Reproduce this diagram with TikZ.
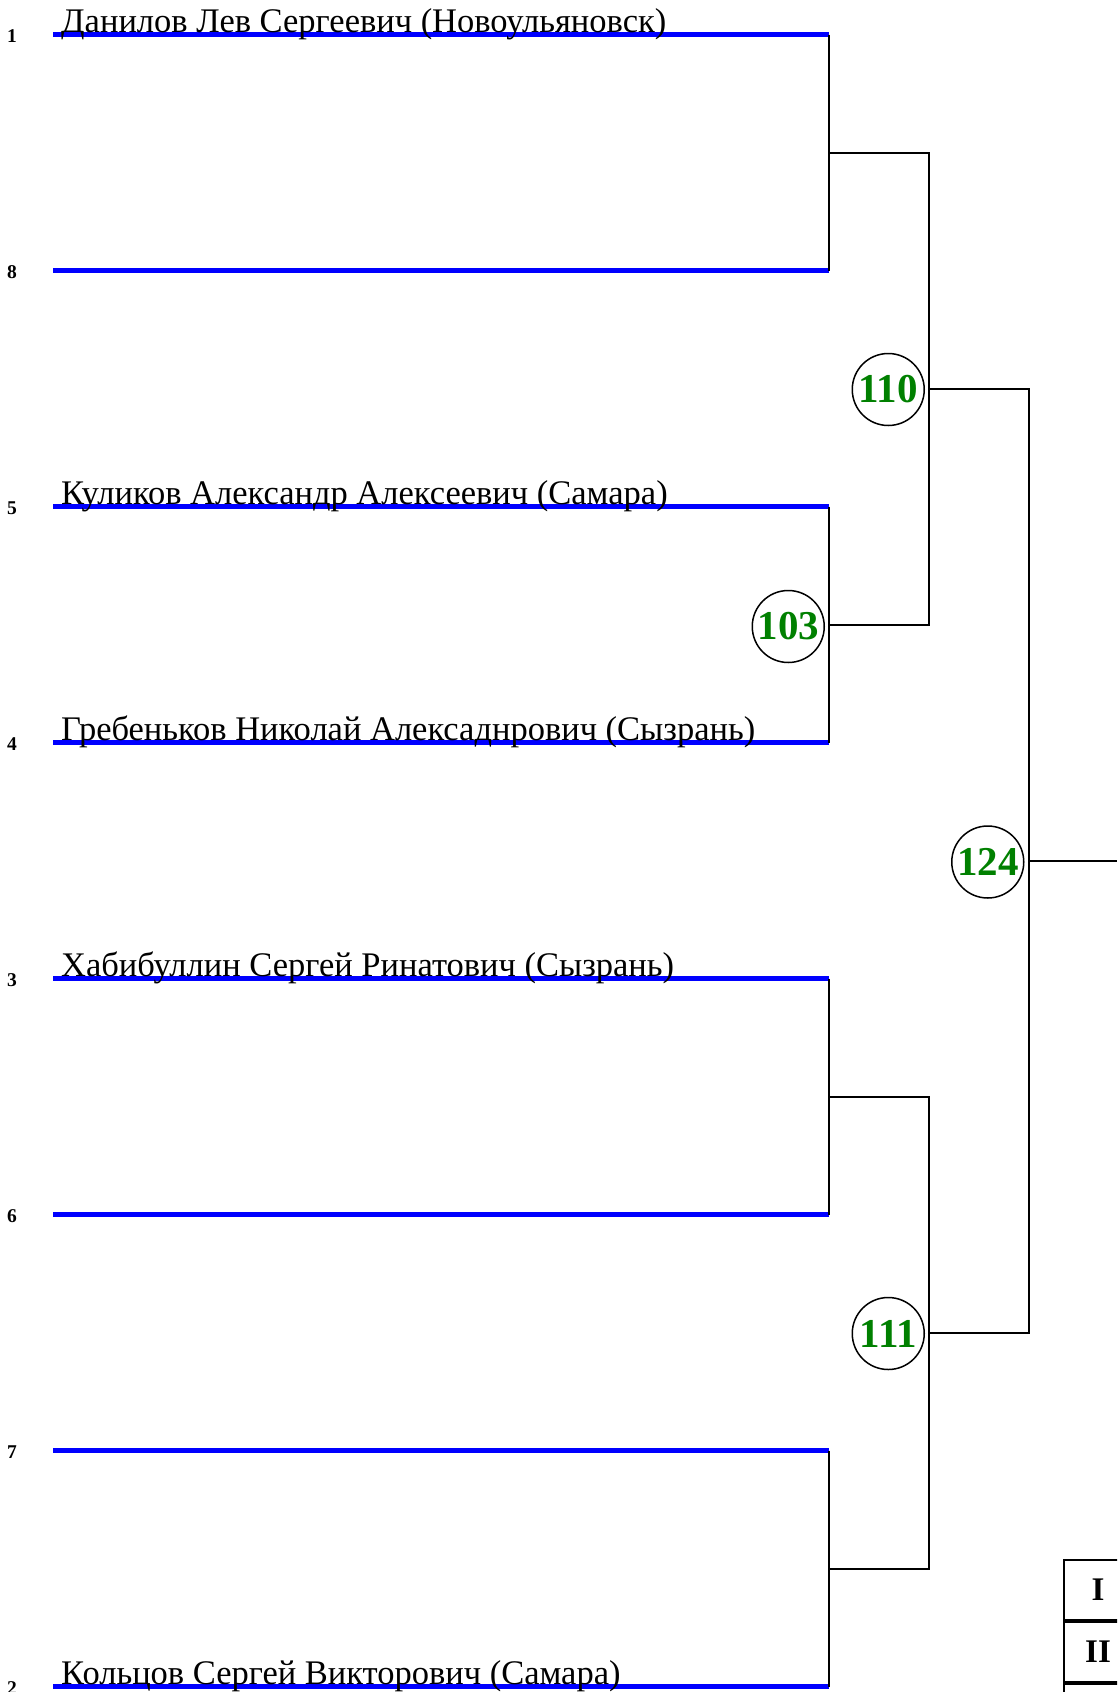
\documentclass[tikz,border=0pt]{standalone}
\usepackage{fontspec}
\setmainfont{Liberation Serif}
\usepackage{tikz}
\usetikzlibrary{positioning,calc}
\definecolor{slotblue}{HTML}{0000FF}
\definecolor{matchgreen}{HTML}{008000}

\begin{document}
\begin{tikzpicture}[x=1pt,y=-1pt,
  slot/.style={line width=5pt,slotblue},
  link/.style={line width=2pt,black},
  seed/.style={font=\fontsize{19.5}{19.5}\selectfont\bfseries,inner sep=0pt},
  player/.style={font=\fontsize{34.5}{34.5}\selectfont,anchor=base west,inner sep=0pt},
  match/.style={circle,draw,line width=1.5pt,minimum size=72pt,inner sep=0pt,
    font=\fontsize{41}{41}\selectfont\bfseries,text=matchgreen},
  place/.style={draw,line width=2pt,minimum width=68pt,minimum height=60pt,
    inner sep=0pt,font=\fontsize{33}{33}\selectfont\bfseries}]
\useasboundingbox (0,0) rectangle (1117,1692);
\clip (0,0) rectangle (1117,1692);
% First round slots
\foreach \i/\num/\y in {1/1/34.5, 2/8/270.5, 3/5/506.5, 4/4/742.5,
  5/3/978.5, 6/6/1214.5, 7/7/1450.5, 8/2/1686.5} {
  \coordinate (b\i) at (53,\y);
  \coordinate (e\i) at (829,\y);
  \draw[slot] (b\i) -- (e\i);
  \node[seed] (n\i) at (12,\y+1.5) {\num};
}
% Names
\foreach \i/\name in {
  1/Данилов Лев Сергеевич (Новоульяновск),
  3/Куликов Александр Алексеевич (Самара),
  4/Гребеньков Николай Алексаднрович (Сызрань),
  5/Хабибуллин Сергей Ринатович (Сызрань),
  8/Кольцов Сергей Викторович (Самара)
} {
  \node[player] (p\i) at ($(b\i)+(8,-2)$) {\name};
}
% Match points
\coordinate (q1) at ($(e1)!0.5!(e2)$);
\coordinate (q2) at ($(e3)!0.5!(e4)$);
\coordinate (q3) at ($(e5)!0.5!(e6)$);
\coordinate (q4) at ($(e7)!0.5!(e8)$);
\coordinate (s1) at ($(q1)!0.5!(q2)+(100,0)$);
\coordinate (s2) at ($(q3)!0.5!(q4)+(100,0)$);
\coordinate (f) at ($(s1)!0.5!(s2)+(99.5,0)$);
\coordinate (out) at (1117,0 |- f);
% Brackets
\foreach \a/\b in {1/2, 3/4, 5/6, 7/8} {
  \draw[link] (e\a) -- (e\b);
}
\draw[link] (q1) -| (s1);
\draw[link] (q2) -| (s1);
\draw[link] (q3) -| (s2);
\draw[link] (q4) -| (s2);
\draw[link] (s1) -| (f);
\draw[link] (s2) -| (f);
\draw[link] (f) -- (out);
% Match numbers
\node[match, left=4pt of q2, yshift=-2pt] (m103) {103};
\node[match, left=4pt of s1, yshift=-1pt] (m110) {110};
\node[match, left=4pt of s2, yshift=-1pt] (m111) {111};
\node[match, left=4pt of f, yshift=-1.5pt] (m124) {124};
% Places
\node[place, anchor=north west] (pl1) at (1063,1559) {I};
\node[place, below=0pt of pl1] (pl2) {II};
\node[place, below=0pt of pl2] (pl3) {};
\end{tikzpicture}
\end{document}
